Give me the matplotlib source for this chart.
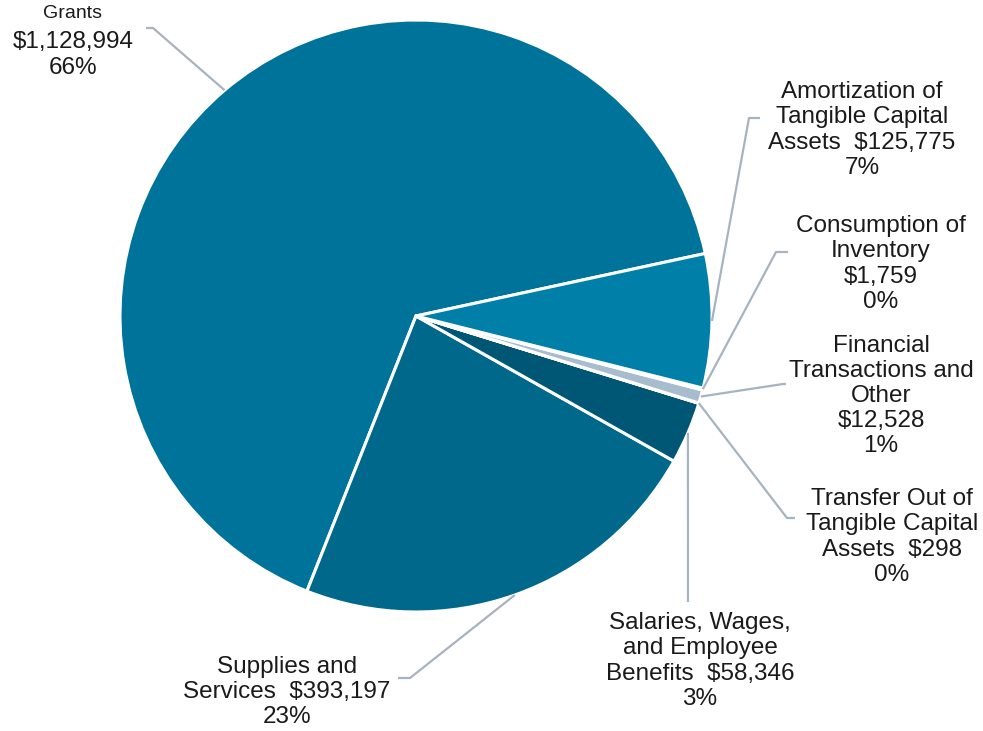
import numpy as np
import matplotlib.pyplot as plt

plt.rcParams['font.family'] = ['Liberation Sans', 'DejaVu Sans']

# Data (counter-clockwise order, starting from the Grants slice)
names = ['Grants',
         'Supplies and\nServices',
         'Salaries, Wages,\nand Employee\nBenefits',
         'Transfer Out of\nTangible Capital\nAssets',
         'Financial\nTransactions and\nOther',
         'Consumption of\nInventory',
         'Amortization of\nTangible Capital\nAssets']
amounts = [1128994, 393197, 58346, 298, 12528, 1759, 125775]
# whether the amount goes on the same line as the last name line
inline_amount = [False, True, True, True, False, False, True]
colors = ['#00739A', '#00688B', '#005775', '#00688B', '#A7BDCF', '#00739A', '#0080A8']

W, H = 983, 731
total = sum(amounts)

fig = plt.figure(figsize=(W / 100, H / 100), dpi=100)
ax = fig.add_axes([0, 0, 1, 1])

cx, cy, r = 416, 316, 296
wedges, _ = ax.pie(amounts, colors=colors, startangle=12.2, counterclock=True,
                   center=(cx, H - cy), radius=r,
                   wedgeprops=dict(edgecolor='white', linewidth=2.2))
ax.set_xlim(0, W)
ax.set_ylim(0, H)
ax.set_aspect('equal')
ax.set_axis_off()

# leader line elbows/ends and label centres, in pixel coords (y down)
elbows = [[(153, 28), (146, 28)],
          [(410, 678), (398, 678)],
          [(688, 602)],
          [(787, 518), (795, 518)],
          [(783, 384), (786, 384)],
          [(776, 252), (788, 252)],
          [(749, 118), (760, 118)]]
label_pos = [(73, 55), (287, 692), (700, 661), (892, 537),
             (881, 396), (881, 264), (862, 130)]

line_col = '#A6B4C0'
txt_col = '#1A1A1A'
fs = 17.5
ls = 1.19

for i, w in enumerate(wedges):
    mid = np.deg2rad((w.theta1 + w.theta2) / 2)
    px = [cx + r * np.cos(mid)] + [p[0] for p in elbows[i]]
    py = [cy - r * np.sin(mid)] + [p[1] for p in elbows[i]]
    ax.plot(px, [H - y for y in py], color=line_col, lw=1.6,
            solid_capstyle='butt', zorder=1)

    amt = f"${amounts[i]:,}"
    pct = f"{round(100 * amounts[i] / total)}%"
    lx, ly = label_pos[i]
    if i == 0:
        ax.text(lx, H - 14, names[i], ha='center', va='center',
                fontsize=14, color=txt_col)
        ax.text(lx, H - ly, amt + '\n' + pct, ha='center', va='center',
                fontsize=fs, color=txt_col, linespacing=ls)
        continue
    if inline_amount[i]:
        s = names[i] + '  ' + amt + '\n' + pct
    else:
        s = names[i] + '\n' + amt + '\n' + pct
    ax.text(lx, H - ly, s, ha='center', va='center', fontsize=fs,
            color=txt_col, linespacing=ls)

fig.savefig('out.png', dpi=100)
